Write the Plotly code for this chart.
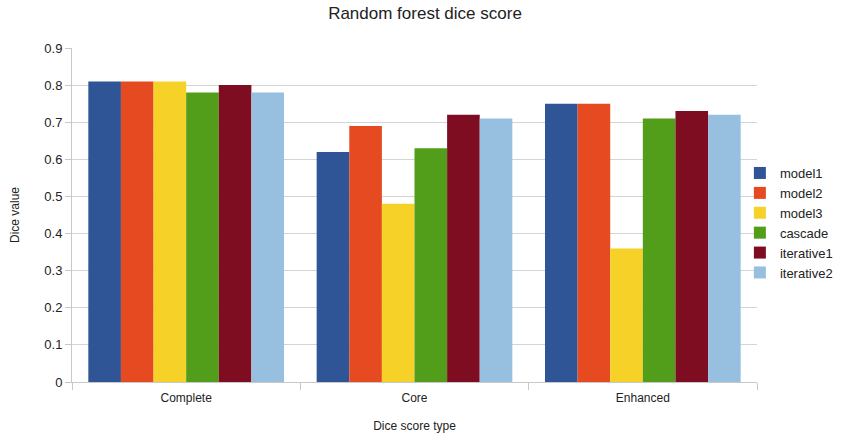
import plotly.graph_objects as go

categories = ["Complete", "Core", "Enhanced"]
series_names = ["model1", "model2", "model3", "cascade", "iterative1", "iterative2"]
model1 = [0.81, 0.62, 0.75]
model2 = [0.81, 0.69, 0.75]
model3 = [0.81, 0.48, 0.36]
cascade = [0.78, 0.63, 0.71]
iterative1 = [0.80, 0.72, 0.73]
iterative2 = [0.78, 0.71, 0.72]
series_values = [model1, model2, model3, cascade, iterative1, iterative2]
colors = ["#2F5597", "#E64A20", "#F6D128", "#529E1A", "#7E0D22", "#97C0E0"]

fig = go.Figure()
for name, vals, col in zip(series_names, series_values, colors):
    fig.add_trace(go.Bar(x=categories, y=vals, name=name,
                         marker=dict(color=col, line=dict(width=0))))

font_family = "Liberation Sans, Arial, sans-serif"
fig.update_layout(
    width=850, height=440,
    barmode="group", bargap=0.143, bargroupgap=0,
    paper_bgcolor="white", plot_bgcolor="white",
    margin=dict(l=72, r=93, t=48, b=58),
    font=dict(family=font_family, size=12, color="#222222"),
    title=dict(text="Random forest dice score", x=0.5, xanchor="center",
               y=0.97, yanchor="middle", font=dict(size=17, color="#222222")),
    legend=dict(x=0.975, xanchor="left", y=0.476, yanchor="middle",
                font=dict(size=13), tracegroupgap=0, itemwidth=30,
                bgcolor="rgba(0,0,0,0)"),
    showlegend=True,
)
fig.update_xaxes(
    title=dict(text="Dice score type", font=dict(size=12), standoff=17),
    automargin=False,
    showline=True, linecolor="#c8c8c8", linewidth=1,
    ticks="outside", tickson="boundaries", ticklen=7, tickcolor="#c8c8c8",
    ticklabelstandoff=5,
    showgrid=False, tickfont=dict(size=12),
)
fig.update_yaxes(
    title=dict(text="Dice value", font=dict(size=12), standoff=22),
    automargin=False,
    range=[0, 0.9], dtick=0.1, tick0=0,
    showline=True, linecolor="#c8c8c8", linewidth=1,
    ticks="outside", ticklen=6, tickcolor="#c8c8c8",
    showgrid=True, gridcolor="#d4d4d4", gridwidth=1,
    zeroline=False, tickfont=dict(size=13),
)

fig.write_html("out.html")
